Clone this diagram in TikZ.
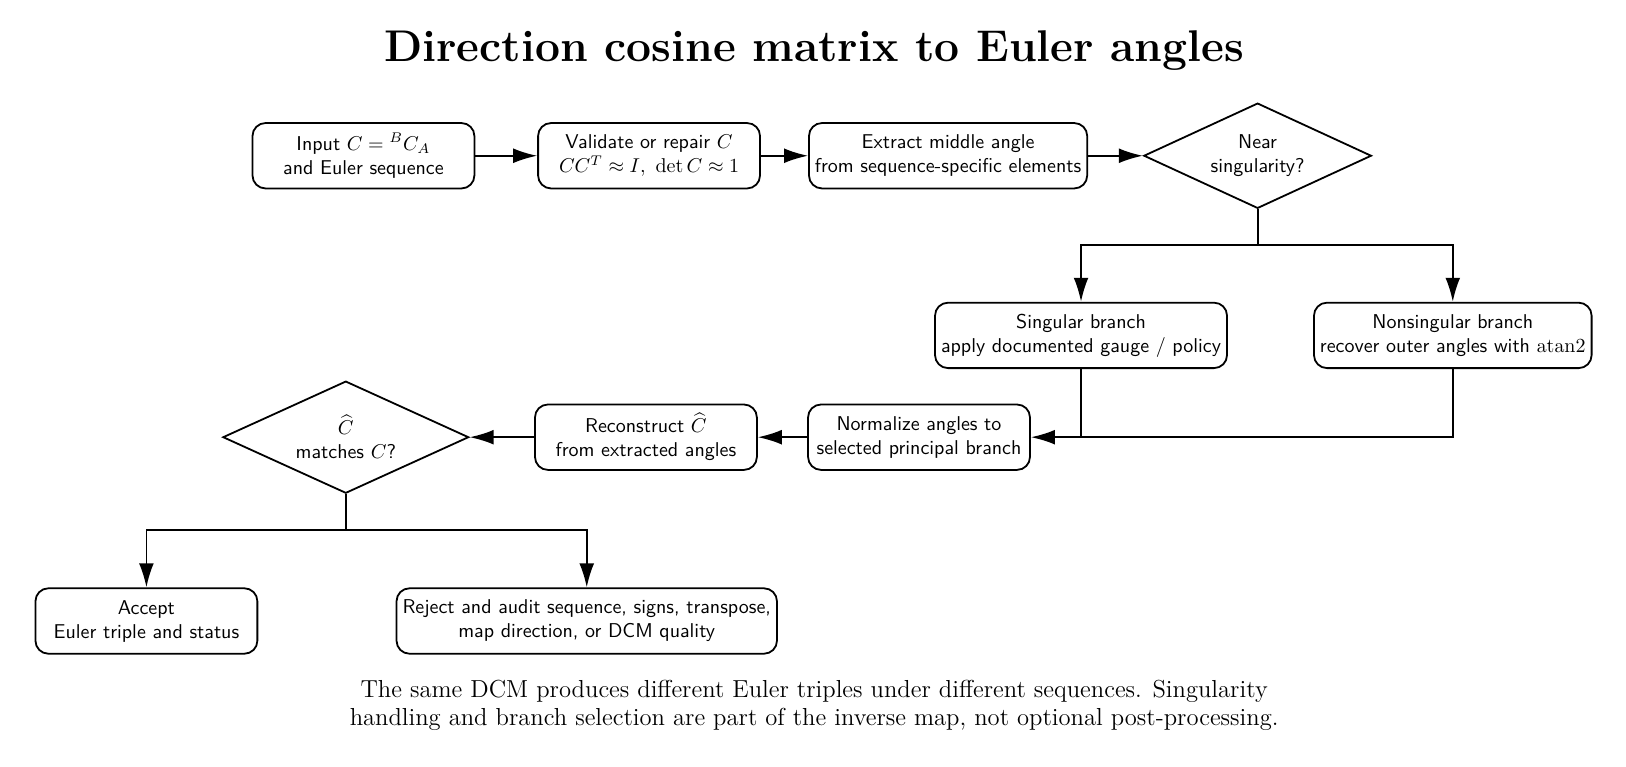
\documentclass[tikz,border=0pt]{standalone}
\usepackage{amssymb}
\usetikzlibrary{arrows.meta,shapes.geometric}

\tikzset{
  stepbox/.style={draw, line width=0.9pt, rounded corners=6.5pt, align=center,
    font=\sffamily, minimum width=3.9cm, minimum height=1.15cm, inner xsep=3pt},
  query/.style={draw, line width=0.9pt, diamond, aspect=2.2, align=center,
    font=\sffamily, inner sep=1pt},
  flow/.style={line width=0.9pt, -{Latex[length=12pt,width=7.4pt]}}
}

\begin{document}
\begin{tikzpicture}
  \useasboundingbox (0, 0) rectangle (28.574, -13.478);
  \node[font=\fontsize{22.2}{26}\selectfont\bfseries] (title) at (14.307, -0.88) {Direction cosine matrix to Euler angles};
  % top row
  \node[stepbox] (input) at (6.387, -2.737) {Input $C = {}^{B}C_{A}$\\and Euler sequence};
  \node[stepbox] (valid) at (11.406, -2.737) {Validate or repair $C$\\$CC^{T} \approx I,\ \det C \approx 1$};
  \node[stepbox] (middle) at (16.661, -2.737) {Extract middle angle\\from sequence-specific elements};
  \node[query, minimum width=4.0cm, minimum height=1.85cm] (near) at (22.1, -2.737) {Near\\singularity?};
  % branches
  \node[stepbox] (sing) at (18.997, -5.894) {Singular branch\\apply documented gauge / policy};
  \node[stepbox] (nons) at (25.53, -5.894) {Nonsingular branch\\recover outer angles with $\mathrm{atan2}$};
  % back row
  \node[stepbox] (norm) at (16.15, -7.683) {Normalize angles to\\selected principal branch};
  \node[stepbox] (recon) at (11.351, -7.683) {Reconstruct $\widehat{C}$\\from extracted angles};
  \node[query, minimum width=4.32cm, minimum height=1.97cm] (match) at (6.077, -7.683) {$\widehat{C}$\\matches $C$?};
  % outcomes
  \node[stepbox] (accept) at (2.573, -10.913) {Accept\\Euler triple and status};
  \node[stepbox] (reject) at (10.311, -10.913) {Reject and audit sequence, signs, transpose,\\map direction, or DCM quality};
  \coordinate (split) at (22.1, -4.307);
  \coordinate (check) at (6.077, -9.307);

  \draw[flow] (input) -- (valid);
  \draw[flow] (valid) -- (middle);
  \draw[flow] (middle) -- (near);
  \draw[line width=0.9pt] (near.south) -- (split);
  \draw[flow] (split) -| (sing.north);
  \draw[flow] (split) -| (nons.north);
  \draw[line width=0.9pt] (sing.south) -- (sing.south |- norm.east);
  \draw[flow] (nons.south) |- (norm.east);
  \draw[flow] (norm) -- (recon);
  \draw[flow] (recon) -- (match);
  \draw[line width=0.9pt] (match.south) -- (check);
  \draw[flow] (check) -| (accept.north);
  \draw[flow] (check) -| (reject.north);

  \node[align=center, font=\fontsize{12.3}{13.8}\selectfont] (note) at (14.307, -12.391) {The same DCM produces different Euler triples under different sequences. Singularity\\handling and branch selection are part of the inverse map, not optional post-processing.};
\end{tikzpicture}
\end{document}
